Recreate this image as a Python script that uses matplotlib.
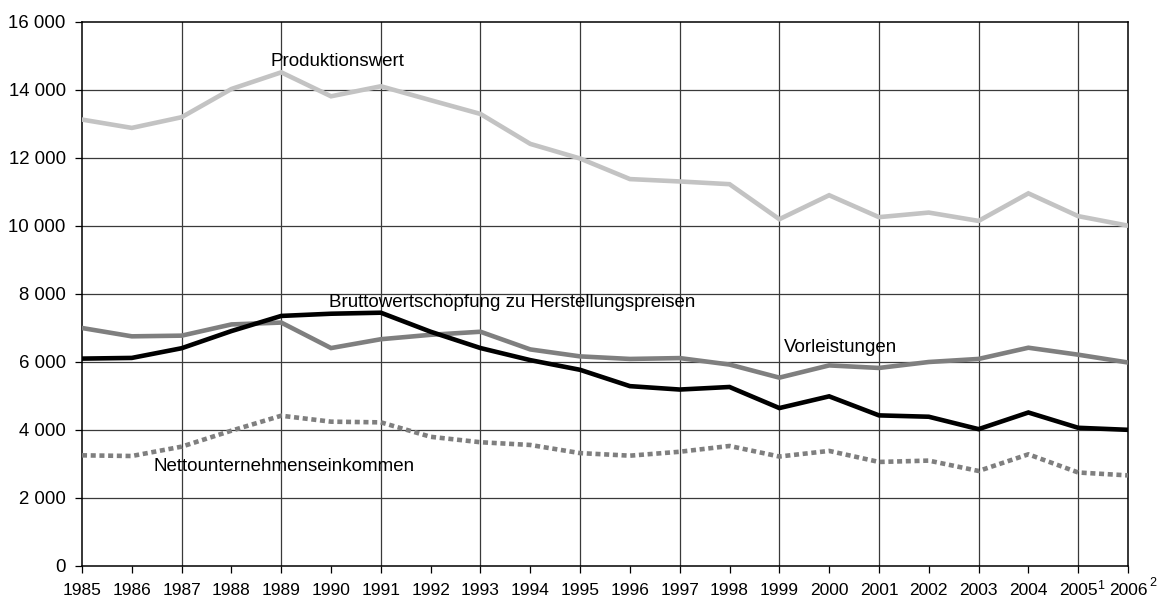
import matplotlib
matplotlib.use('Agg')
import matplotlib.pyplot as plt

plt.rcParams['font.family'] = ['Liberation Sans', 'DejaVu Sans']

years = list(range(1985, 2007))

produktionswert = [13130, 12885, 13200, 14030, 14520, 13815, 14110, 13700, 13295, 12415,
                   11985, 11380, 11310, 11230, 10200, 10905, 10260, 10395, 10150, 10960,
                   10290, 10010]
vorleistungen = [7000, 6755, 6775, 7105, 7160, 6410, 6670, 6800, 6890, 6370,
                 6165, 6090, 6115, 5925, 5540, 5900, 5825, 6000, 6090, 6420,
                 6215, 5985]
bruttowert = [6100, 6120, 6405, 6910, 7355, 7420, 7450, 6890, 6410, 6055,
              5770, 5290, 5190, 5265, 4645, 4990, 4430, 4390, 4025, 4515,
              4065, 4005]
netto = [3255, 3235, 3510, 3980, 4420, 4245, 4225, 3800, 3640, 3560,
         3320, 3245, 3360, 3530, 3220, 3385, 3060, 3100, 2795, 3285,
         2750, 2665]

y_ticks = [0, 2000, 4000, 6000, 8000, 10000, 12000, 14000, 16000]
y_labels = ['0', '2 000', '4 000', '6 000', '8 000', '10 000', '12 000', '14 000', '16 000']
grid_years = list(range(1987, 2006, 2))
footnotes = {2005: '1', 2006: '2'}

fig = plt.figure(figsize=(11.6, 6), dpi=100)
ax = fig.add_axes([82 / 1160, 34 / 600, 1046 / 1160, 544 / 600])

# grid
for y in y_ticks[1:-1]:
    ax.axhline(y, color='#3a3a3a', lw=0.9, zorder=1)
for x in grid_years:
    ax.axvline(x, color='#3a3a3a', lw=0.9, zorder=1)

ax.plot(years, produktionswert, color='#c3c3c3', lw=3.3, solid_joinstyle='miter', zorder=3)
ax.plot(years, vorleistungen, color='#7f7f7f', lw=3.3, solid_joinstyle='miter', zorder=3)
ax.plot(years, bruttowert, color='black', lw=3.3, solid_joinstyle='miter', zorder=4)
ax.plot(years, netto, color='#7f7f7f', lw=3.3, linestyle=(0, (1.1, 0.8)),
        dash_capstyle='butt', zorder=3)

# series labels
fs = 13.5
ax.text(1988.78, 14830, 'Produktionswert', fontsize=fs, va='center', ha='left')
ax.text(1989.95, 7760, 'Bruttowertschöpfung zu Herstellungspreisen', fontsize=fs, va='center', ha='left')
ax.text(1999.1, 6420, 'Vorleistungen', fontsize=fs, va='center', ha='left')
ax.text(1986.43, 2940, 'Nettounternehmenseinkommen', fontsize=fs, va='center', ha='left')

ax.set_xlim(1985, 2006)
ax.set_ylim(0, 16000)
ax.set_xticks(years)
ax.set_xticklabels([str(y) for y in years], fontsize=12.5)
ax.set_yticks(y_ticks)
ax.set_yticklabels(y_labels, fontsize=13.4)
ax.tick_params(axis='y', direction='out', length=5.2, width=0.9, color='black', pad=6.5)
ax.tick_params(axis='x', direction='out', length=5, width=0.9, color='black', pad=7.5)

for s in ax.spines.values():
    s.set_linewidth(1.1)
    s.set_color('black')

# footnote markers on the last two year labels
for yr, mark in footnotes.items():
    dx = 16 if yr == 2005 else 18
    dy = -14.4 if yr == 2005 else -12.6
    ax.annotate(mark, xy=(yr, 0), xycoords=('data', 'axes fraction'),
                xytext=(dx, dy), textcoords='offset points',
                fontsize=9, ha='center', va='center')

fig.savefig('out.png', dpi=100)
